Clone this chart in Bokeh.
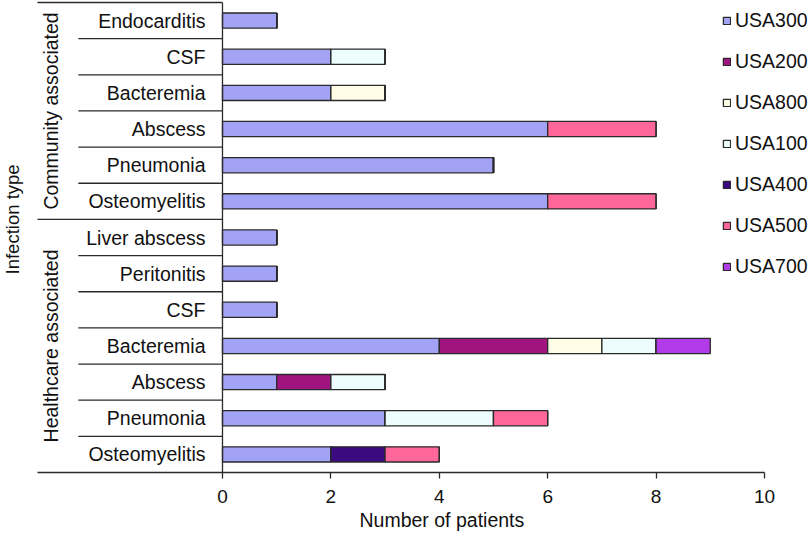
import math
from bokeh.plotting import figure
from bokeh.models import (FactorRange, ColumnDataSource, Span, Legend, LegendItem,
                          LinearAxis, Range1d, FixedTicker, Title)
from bokeh.core.properties import value
from bokeh.embed import file_html
from bokeh.resources import INLINE

# ---------------- data (top to bottom as in the chart) ----------------
groups = ["Community associated"] * 6 + ["Healthcare associated"] * 7
infections = ["Endocarditis", "CSF", "Bacteremia", "Abscess", "Pneumonia", "Osteomyelitis",
              "Liver abscess", "Peritonitis", "CSF", "Bacteremia", "Abscess", "Pneumonia",
              "Osteomyelitis"]
strains = ["USA300", "USA200", "USA800", "USA100", "USA400", "USA500", "USA700"]
usa300 = [1, 2, 2, 6, 5, 6, 1, 1, 1, 4, 1, 3, 2]
usa200 = [0, 0, 0, 0, 0, 0, 0, 0, 0, 2, 1, 0, 0]
usa800 = [0, 0, 1, 0, 0, 0, 0, 0, 0, 1, 0, 0, 0]
usa100 = [0, 1, 0, 0, 0, 0, 0, 0, 0, 1, 1, 2, 0]
usa400 = [0, 0, 0, 0, 0, 0, 0, 0, 0, 0, 0, 0, 1]
usa500 = [0, 0, 0, 2, 0, 2, 0, 0, 0, 0, 0, 1, 1]
usa700 = [0, 0, 0, 0, 0, 0, 0, 0, 0, 1, 0, 0, 0]
x_ticks = [0, 2, 4, 6, 8, 10]
x_title = "Number of patients"
y_title = "Infection type"

colors = ["#a3a3f5", "#a0147f", "#fffde6", "#edfdfd", "#3b0a80", "#ff6699", "#b13be8"]
FONT = value("Liberation Sans")
EDGE = "#2a2a2a"
TXT = "#111111"

# ---------------- figure ----------------
factors = list(zip(groups, infections))[::-1]  # bottom -> top
X0, X1 = -4.096, 10.849      # visible x extent (label block on the left, legend on the right)
XB = -3.413                  # left end of the outer rules
p = figure(width=810, height=540,
           y_range=FactorRange(*factors, factor_padding=0, group_padding=0,
                               subgroup_padding=0, range_padding=0),
           x_range=Range1d(X0, X1),
           output_backend="svg", toolbar_location=None,
           min_border_left=0, min_border_right=0, min_border_top=2,
           min_border_bottom=68)
p.outline_line_color = None
p.grid.visible = False
p.yaxis.visible = False

xa = p.xaxis[0]
xa.bounds = (XB, 10)
xa.ticker = FixedTicker(ticks=x_ticks)
xa.major_label_text_font = "Liberation Sans"
xa.major_label_text_font_size = "19px"
xa.major_label_text_color = TXT
xa.major_tick_out = 6
xa.major_tick_in = 0
xa.minor_tick_out = 0
xa.minor_tick_in = 0
xa.axis_line_color = EDGE
xa.axis_line_width = 1.3
xa.major_tick_line_color = EDGE
xa.major_tick_line_width = 1.3
xa.major_label_standoff = 11

# top border of the label block
top_axis = LinearAxis(bounds=(XB, 0), ticker=FixedTicker(ticks=[]),
                      major_label_text_font_size="0px", major_tick_out=0, major_tick_in=0,
                      minor_tick_out=0, minor_tick_in=0, axis_line_color=EDGE,
                      axis_line_width=1.3)
p.add_layout(top_axis, "above")

# x title
p.add_layout(Title(text=x_title, align="left", offset=359, standoff=2,
                   text_font="Liberation Sans", text_font_size="19.5px",
                   text_font_style="normal", text_color=TXT), "below")

# ---------------- bars ----------------
ycat = list(zip(groups, infections))
src = ColumnDataSource(dict(y=ycat, infection=infections,
                            USA300=usa300, USA200=usa200, USA800=usa800, USA100=usa100,
                            USA400=usa400, USA500=usa500, USA700=usa700))
renderers = p.hbar_stack(strains, y="y", height=0.42, color=colors, source=src,
                         line_color=EDGE, line_width=1.3)

# y axis line at x = 0
p.add_layout(Span(location=0, dimension="height", line_color=EDGE, line_width=1.3))

# ---------------- category labels ----------------
p.text(x=-0.314, y="y", text="infection", source=src, text_align="right",
       text_baseline="middle", text_font=FONT, text_font_size="19.5px", text_color=TXT)

# separators
sx0, sy = [], []
for i in range(len(infections) - 1):
    sy.append((groups[i], infections[i], -0.5))
    sx0.append(XB if groups[i] != groups[i + 1] else -2.66)
sep = ColumnDataSource(dict(x0=sx0, x1=[0] * len(sx0), y=sy))
p.segment(x0="x0", x1="x1", y0="y", y1="y", source=sep, line_color=EDGE, line_width=1.3)

# group labels
gnames, gy = [], []
for g in dict.fromkeys(groups):
    idx = [i for i, gg in enumerate(groups) if gg == g]
    n = len(idx)
    k = idx[n // 2]
    if n % 2 == 0:
        gy.append((g, infections[k], 0.5))
    else:
        gy.append((g, infections[k]))
    gnames.append(g)
gsrc = ColumnDataSource(dict(x=[-3.173] * len(gnames), y=gy, t=gnames))
p.text(x="x", y="y", text="t", source=gsrc, angle=math.pi / 2, text_align="center",
       text_baseline="middle", text_font=FONT, text_font_size="19.5px", text_color=TXT)

# y title
tsrc = ColumnDataSource(dict(x=[-3.875], y=[(groups[6], infections[6], 0.5)], t=[y_title]))
p.text(x="x", y="y", text="t", source=tsrc, angle=math.pi / 2, text_align="center",
       text_baseline="middle", text_font=FONT, text_font_size="18.5px", text_color=TXT)

# ---------------- legend ----------------
items = [LegendItem(label=s, renderers=[r]) for s, r in zip(strains, renderers)]
legend = Legend(items=items, location=(722, 194), glyph_width=9, glyph_height=9,
                label_standoff=4, label_text_font="Liberation Sans", label_text_font_size="19.5px",
                label_text_color=TXT, label_height=21, spacing=18, padding=0, margin=0,
                border_line_color=None, background_fill_alpha=0)
p.add_layout(legend)

open("out.html", "w").write(file_html(p, INLINE))
